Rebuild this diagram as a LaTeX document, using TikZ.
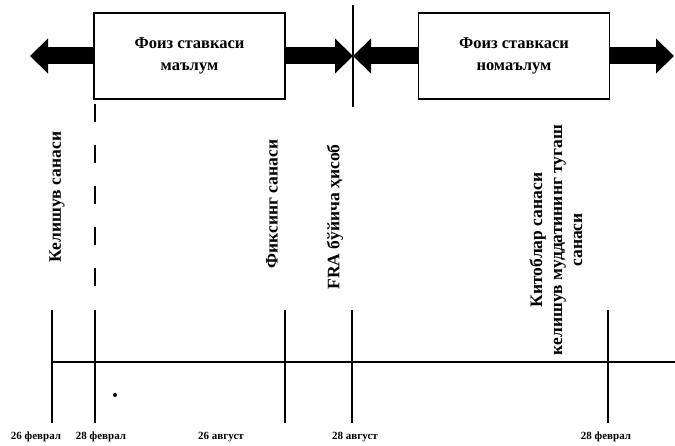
\documentclass[tikz,border=0pt]{standalone}
\usepackage{fontspec}
\setmainfont{Liberation Serif}
\usetikzlibrary{arrows.meta}
\begin{document}
\begin{tikzpicture}[x=1pt,y=-1pt,
  phasebox/.style={draw,line width=1.8pt,minimum width=191pt,minimum height=86pt,inner sep=0pt,align=center,font=\bfseries\fontsize{16.5}{22}\selectfont},
  fatarrow/.style={line width=17pt,-{Triangle[length=18pt,width=34pt]}},
  vlabel/.style={rotate=90,font=\bfseries\fontsize{17.5}{20}\selectfont,inner sep=0pt,align=center},
  datelabel/.style={font=\bfseries\fontsize{11}{13}\selectfont,inner sep=0pt},
  tick/.style={line width=1.8pt},
  axis/.style={line width=1.8pt}]
\useasboundingbox (0,0) rectangle (675,446);
% boxes
\node[phasebox] (b1) at (189.5,56) {Фоиз ставкаси\\маълум};
\node[phasebox] (b2) at (514,56) {Фоиз ставкаси\\номаълум};
% arrow end points
\coordinate (tipL) at (30,56);
\coordinate (mid) at (353,56);
\coordinate (tipR) at (674,56);
\draw[fatarrow] (b1.west) -- (tipL);
\draw[fatarrow] (b1.east) -- (mid);
\draw[fatarrow] (b2.west) -- (mid);
\draw[fatarrow] (b2.east) -- (tipR);
% vertical separator at top
\coordinate (sepT) at (353,5);
\coordinate (sepB) at (353,107);
\draw[line width=1.5pt] (sepT) -- (sepB);
% dashed line
\coordinate (dT) at (95,104);
\coordinate (dB) at (95,295);
\draw[line width=1.8pt,dash pattern=on 18pt off 23pt] (dT) -- (dB);
% timeline
\coordinate (axL) at (52,362);
\coordinate (axR) at (675,362);
\draw[axis] (axL) -- (axR);
\foreach \n/\x in {t1/52,t2/95,t3/285,t4/352,t5/608}{
  \coordinate (\n a) at (\x,310);
  \coordinate (\n b) at (\x,423);
  \draw[tick] (\n a) -- (\n b);
}
\fill (115,395) circle (2pt);
% vertical labels
\node[vlabel] (l1) at (57,197) {Келишув санаси};
\node[vlabel] (l2) at (272,204) {Фиксинг санаси};
\node[vlabel] (l3) at (335,217) {FRA бўйича ҳисоб};
\node[vlabel] (l4) at (556,240) {Китоблар санаси\\келишув муддатининг тугаш\\санаси};
% date labels
\node[datelabel] (d1) at (36,437) {26 феврал};
\node[datelabel] (d2) at (101,437) {28 феврал};
\node[datelabel] (d3) at (221,437) {26 август};
\node[datelabel] (d4) at (355,437) {28 август};
\node[datelabel] (d5) at (606,437) {28 феврал};
\end{tikzpicture}
\end{document}
